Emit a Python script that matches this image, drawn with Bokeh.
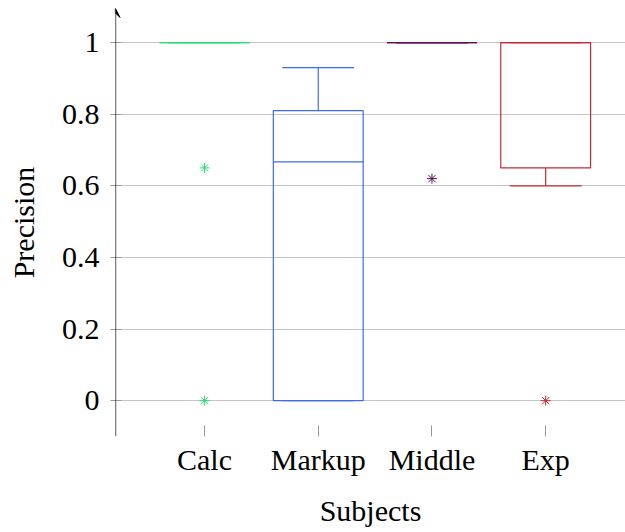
from bokeh.plotting import figure
from bokeh.models import Range1d, FixedTicker, Arrow, VeeHead, ColumnDataSource
from bokeh.embed import file_html
from bokeh.resources import INLINE

categories = ["Calc", "Markup", "Middle", "Exp"]
positions = [1, 2, 3, 4]
lower_whisker = [1.0, 0.0, 1.0, 0.6]
lower_quartile = [1.0, 0.0, 1.0, 0.65]
median = [1.0, 0.667, 1.0, 1.0]
upper_quartile = [1.0, 0.81, 1.0, 1.0]
upper_whisker = [1.0, 0.93, 1.0, 1.0]
colors = ["#2fdc78", "#3a6bf2", "#5e0a5a", "#c42a36"]
outlier_x = [1, 1, 3, 4]
outlier_y = [0.65, 0.0, 0.62, 0.0]
outlier_colors = ["#2fdc78", "#2fdc78", "#5e0a5a", "#c42a36"]
y_ticks = [0, 0.2, 0.4, 0.6, 0.8, 1]
y_tick_labels = {0: "0", 0.2: "0.2", 0.4: "0.4", 0.6: "0.6", 0.8: "0.8", 1: "1"}

FONT = "Liberation Serif"
FS = "30px"

x0, x1 = 0.217, 4.702
y0, y1 = -0.1, 1.095

p = figure(width=625, height=532, output_backend="svg", toolbar_location=None,
           x_range=Range1d(x0, x1), y_range=Range1d(y0, y1),
           min_border_left=115, min_border_right=0, min_border_top=8,
           min_border_bottom=96)
p.outline_line_color = None
p.background_fill_color = "white"

bw = 0.79
ww = 0.8 * bw
left = [x - bw / 2 for x in positions]
right = [x + bw / 2 for x in positions]
wl = [x - ww / 2 for x in positions]
wr = [x + ww / 2 for x in positions]

src = ColumnDataSource(dict(x=positions, left=left, right=right, wl=wl, wr=wr,
                            lw=lower_whisker, lq=lower_quartile, med=median,
                            uq=upper_quartile, uw=upper_whisker, color=colors))

lw_ = 1.2
# whisker stems
p.segment(x0="x", y0="uq", x1="x", y1="uw", source=src, line_color="color", line_width=lw_)
p.segment(x0="x", y0="lq", x1="x", y1="lw", source=src, line_color="color", line_width=lw_)
# whisker caps
p.segment(x0="wl", y0="uw", x1="wr", y1="uw", source=src, line_color="color", line_width=lw_)
p.segment(x0="wl", y0="lw", x1="wr", y1="lw", source=src, line_color="color", line_width=lw_)
# box
p.quad(left="left", right="right", bottom="lq", top="uq", source=src,
       fill_color=None, line_color="color", line_width=lw_)
# median
p.segment(x0="left", y0="med", x1="right", y1="med", source=src, line_color="color", line_width=lw_)

# outliers
p.scatter(x=outlier_x, y=outlier_y, marker="asterisk", size=10,
          line_color=outlier_colors, line_width=1.0)

# axes
p.yaxis.ticker = FixedTicker(ticks=y_ticks)
p.yaxis.major_label_overrides = y_tick_labels
p.yaxis.axis_line_color = None
p.yaxis.major_tick_in = 6
p.yaxis.major_tick_out = 5
p.yaxis.major_tick_line_color = "#999999"
p.yaxis.minor_tick_line_color = None
p.yaxis.major_label_standoff = 11
p.yaxis.axis_label = "Precision"
p.yaxis.axis_label_standoff = 19

p.xaxis.ticker = FixedTicker(ticks=positions)
p.xaxis.major_label_overrides = {i: c for i, c in zip(positions, categories)}
p.xaxis.axis_line_color = None
p.xaxis.major_tick_in = 11
p.xaxis.major_tick_out = 0
p.xaxis.major_tick_line_color = "#999999"
p.xaxis.minor_tick_line_color = None
p.xaxis.major_label_standoff = 6
p.xaxis.axis_label = "Subjects"
p.xaxis.axis_label_standoff = 15

for ax in (p.xaxis, p.yaxis):
    ax.major_label_text_font = FONT
    ax.major_label_text_font_size = FS
    ax.major_label_text_color = "black"
    ax.axis_label_text_font = FONT
    ax.axis_label_text_font_size = FS
    ax.axis_label_text_font_style = "normal"
    ax.axis_label_text_color = "black"

p.xgrid.grid_line_color = None
p.ygrid.grid_line_color = "#c4c4c4"
p.ygrid.grid_line_width = 1
p.ygrid.ticker = FixedTicker(ticks=y_ticks)

p.add_layout(Arrow(x_start=x0, y_start=y0, x_end=x0, y_end=y1,
                   line_color="black", line_width=1.3,
                   end=VeeHead(size=9, line_color="black", fill_color="black", line_width=1)))

open("out.html", "w").write(file_html(p, INLINE))
